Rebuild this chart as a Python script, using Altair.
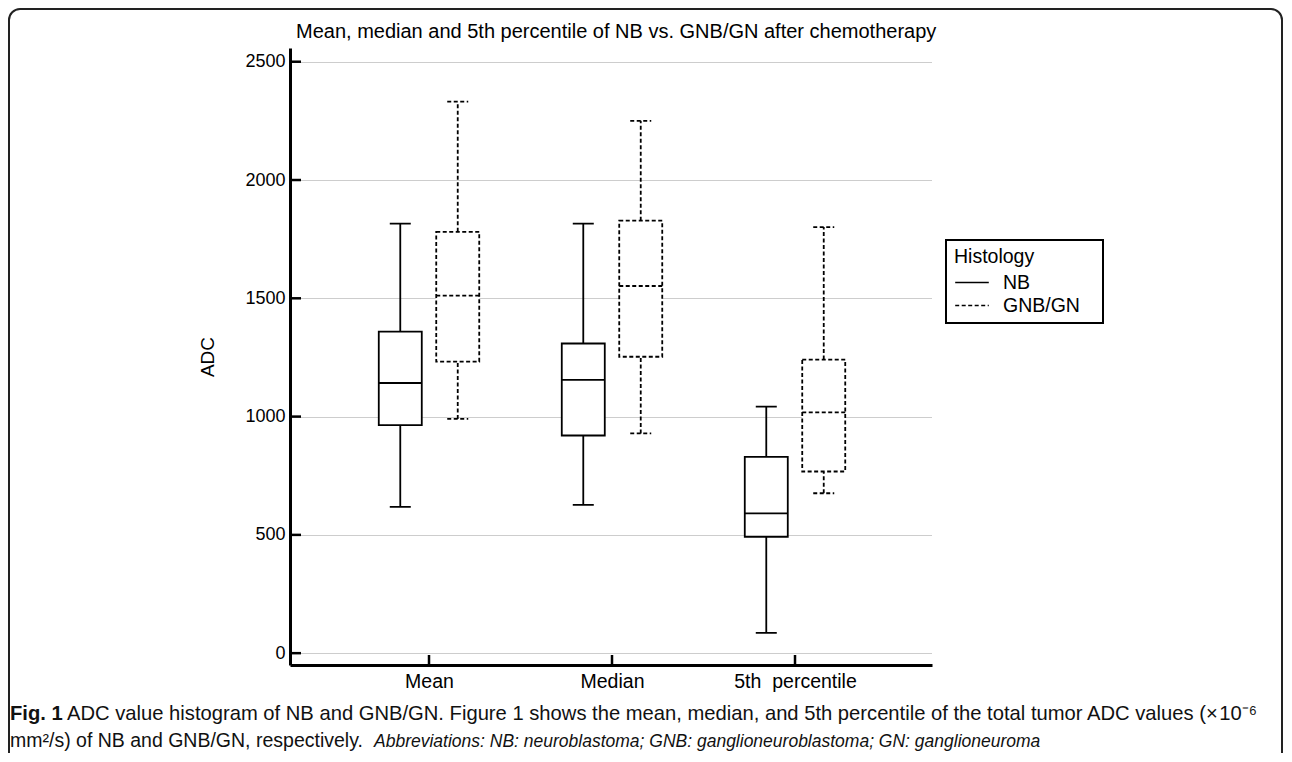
import altair as alt
import pandas as pd

# ---------------- data ----------------
categories = ["Mean", "Median", "5th\u00a0 percentile"]
groups = ["NB", "GNB/GN"]

nb_min = [618, 627, 86]
nb_q1 = [964, 920, 492]
nb_median = [1142, 1155, 591]
nb_q3 = [1359, 1309, 830]
nb_max = [1816, 1816, 1042]

gn_min = [990, 929, 676]
gn_q1 = [1232, 1253, 768]
gn_median = [1511, 1552, 1018]
gn_q3 = [1781, 1828, 1241]
gn_max = [2331, 2250, 1801]

y_ticks = [0, 500, 1000, 1500, 2000, 2500]

title_text = ["Mean, median and 5th percentile of NB vs. GNB/GN after chemotherapy"]
cap1_bold = ["Fig. 1"]
cap1_rest = ["ADC value histogram of NB and GNB/GN. Figure 1 shows the mean, median, and 5th percentile of the total tumor ADC values (\u00d7\u200a10\u207b\u2076"]
cap2_rest = ["mm\u00b2/s) of NB and GNB/GN, respectively."]
cap2_ital = ["Abbreviations: NB: neuroblastoma; GNB: ganglioneuroblastoma; GN: ganglioneuroma"]

# ---------------- table ----------------
stats = {
    "NB": (nb_min, nb_q1, nb_median, nb_q3, nb_max),
    "GNB/GN": (gn_min, gn_q1, gn_median, gn_q3, gn_max),
}
rows = []
for gi, g in enumerate(groups):
    mn, q1, md, q3, mx = stats[g]
    for ci, c in enumerate(categories):
        rows.append(dict(cat=c, ci=ci, group=g, gi=gi, lo=mn[ci], q1=q1[ci],
                         med=md[ci], q3=q3[ci], hi=mx[ci]))
df = pd.DataFrame(rows)

W, H = 642, 617
FONT = "Liberation Sans"
CAPFONT = "Liberation Sans"

xs = alt.Scale(domain=[-0.7596, 2.7486], nice=False, zero=False)
ys = alt.Scale(domain=[-50, 2558], nice=False, zero=False)
dash = alt.Scale(domain=groups, range=[[1, 0], [4, 2.5]])

label_js = "[" + ",".join("'" + c + "'" for c in categories) + "][datum.value]"

x_axis = alt.Axis(values=[0, 1, 2], labelExpr=label_js, grid=False, ticks=False,
                  tickSize=0, labelFontSize=19.5, labelColor="black", labelPadding=7,
                  labelFont=FONT, domainColor="black", domainWidth=3, title=None)
y_axis = alt.Axis(values=y_ticks, format="d", grid=True, gridColor="#9a9a9a",
                  gridDash=[1, 1], gridWidth=1, ticks=False, tickSize=0,
                  labelFontSize=18, labelColor="black", labelPadding=5,
                  labelFont=FONT, domainColor="black", domainWidth=3, title="ADC",
                  titleFontSize=19, titleFontWeight="normal", titleColor="black",
                  titleFont=FONT, titleX=-83, titleBaseline="middle")

pad = "\u2800"
legend = alt.Legend(title="Histology", orient="none", legendX=656, legendY=192,
                    symbolType="M-1.4,0H1.4", symbolStrokeColor="black",
                    symbolStrokeWidth=1.6, symbolSize=576, symbolOffset=5,
                    labelFontSize=19.5,
                    titleFontSize=19.5, titleFontWeight="normal", labelColor="black",
                    titleColor="black", labelFont=FONT, titleFont=FONT,
                    strokeColor="black", padding=8, rowPadding=0, labelOffset=18,
                    titlePadding=2, labelExpr="datum.label + '" + pad + "'")

base = alt.Chart(df).transform_calculate(
    pos="datum.ci + (datum.gi - 0.5) * 0.314",
).transform_calculate(
    bl="datum.pos - 0.1175", br="datum.pos + 0.1175",
    cl="datum.pos - 0.0574", cr="datum.pos + 0.0574",
)

sd_leg = alt.StrokeDash("group:N", scale=dash, legend=legend)
sd = alt.StrokeDash("group:N", scale=dash, legend=None)
SW = 1.8


def X(f):
    return alt.X(f, scale=xs, axis=x_axis)


def Y(f):
    return alt.Y(f, scale=ys, axis=y_axis)


whisk_lo = base.mark_rule(color="black", strokeWidth=SW).encode(
    x=X("pos:Q"), y=Y("lo:Q"), y2="q1:Q", strokeDash=sd_leg)
whisk_hi = base.mark_rule(color="black", strokeWidth=SW).encode(
    x=X("pos:Q"), y=Y("q3:Q"), y2="hi:Q", strokeDash=sd)
box = base.mark_bar(fill="white", stroke="black", strokeWidth=SW).encode(
    x=X("bl:Q"), x2="br:Q", y=Y("q1:Q"), y2="q3:Q", strokeDash=sd)
median = base.mark_rule(color="black", strokeWidth=SW).encode(
    x=X("bl:Q"), x2="br:Q", y=Y("med:Q"), strokeDash=sd)
cap_lo = base.mark_rule(color="black", strokeWidth=SW).encode(
    x=X("cl:Q"), x2="cr:Q", y=Y("lo:Q"), strokeDash=sd)
cap_hi = base.mark_rule(color="black", strokeWidth=SW).encode(
    x=X("cl:Q"), x2="cr:Q", y=Y("hi:Q"), strokeDash=sd)

# inward tick marks on both axes
ytk = alt.Chart(pd.DataFrame({"v": y_ticks})).mark_rule(
    color="black", strokeWidth=2.5).encode(
    y=Y("v:Q"), x=alt.value(0), x2=alt.value(11))
xtk = alt.Chart(pd.DataFrame({"ci": list(range(len(categories)))})).mark_rule(
    color="black", strokeWidth=2.5).encode(
    x=X("ci:Q"), y=alt.value(H), y2=alt.value(H - 10))

# chart title, figure frame and caption
ttl = alt.Chart(pd.DataFrame({"t": title_text})).mark_text(
    align="left", baseline="alphabetic", font=FONT, fontSize=20,
    color="black").encode(x=alt.value(6), y=alt.value(-10), text="t:N")

frame = alt.Chart(pd.DataFrame({"k": [0]})).mark_rect(
    fill="transparent", stroke="#222222", strokeWidth=2, cornerRadius=11).encode(
    x=alt.value(-281), x2=alt.value(992), y=alt.value(-39), y2=alt.value(790))

CS = 20.2
c1b = alt.Chart(pd.DataFrame({"t": cap1_bold})).mark_text(
    align="left", baseline="alphabetic", font=CAPFONT, fontSize=CS,
    fontWeight="bold", color="#111111").encode(
    x=alt.value(-280), y=alt.value(672), text="t:N")
c1r = alt.Chart(pd.DataFrame({"t": cap1_rest})).mark_text(
    align="left", baseline="alphabetic", font=CAPFONT, fontSize=CS,
    color="#111111").encode(
    x=alt.value(-223), y=alt.value(672), text="t:N")
c2r = alt.Chart(pd.DataFrame({"t": cap2_rest})).mark_text(
    align="left", baseline="alphabetic", font=CAPFONT, fontSize=19.5,
    color="#111111").encode(
    x=alt.value(-280), y=alt.value(699), text="t:N")
c2i = alt.Chart(pd.DataFrame({"t": cap2_ital})).mark_text(
    align="left", baseline="alphabetic", font=CAPFONT, fontSize=17.5,
    fontStyle="italic", color="#111111").encode(
    x=alt.value(84), y=alt.value(699), text="t:N")

chart = alt.layer(
    whisk_lo, whisk_hi, box, median, cap_lo, cap_hi, ytk, xtk,
    ttl, frame, c1b, c1r, c2r, c2i,
).properties(
    width=W, height=H,
    autosize=alt.AutoSizeParams(type="none"),
    padding={"left": 282, "top": 40, "right": 352, "bottom": 88},
).configure_view(stroke=None).configure_legend(strokeWidth=2)

chart.save("out.html", embed_options={"renderer": "svg", "actions": False})
